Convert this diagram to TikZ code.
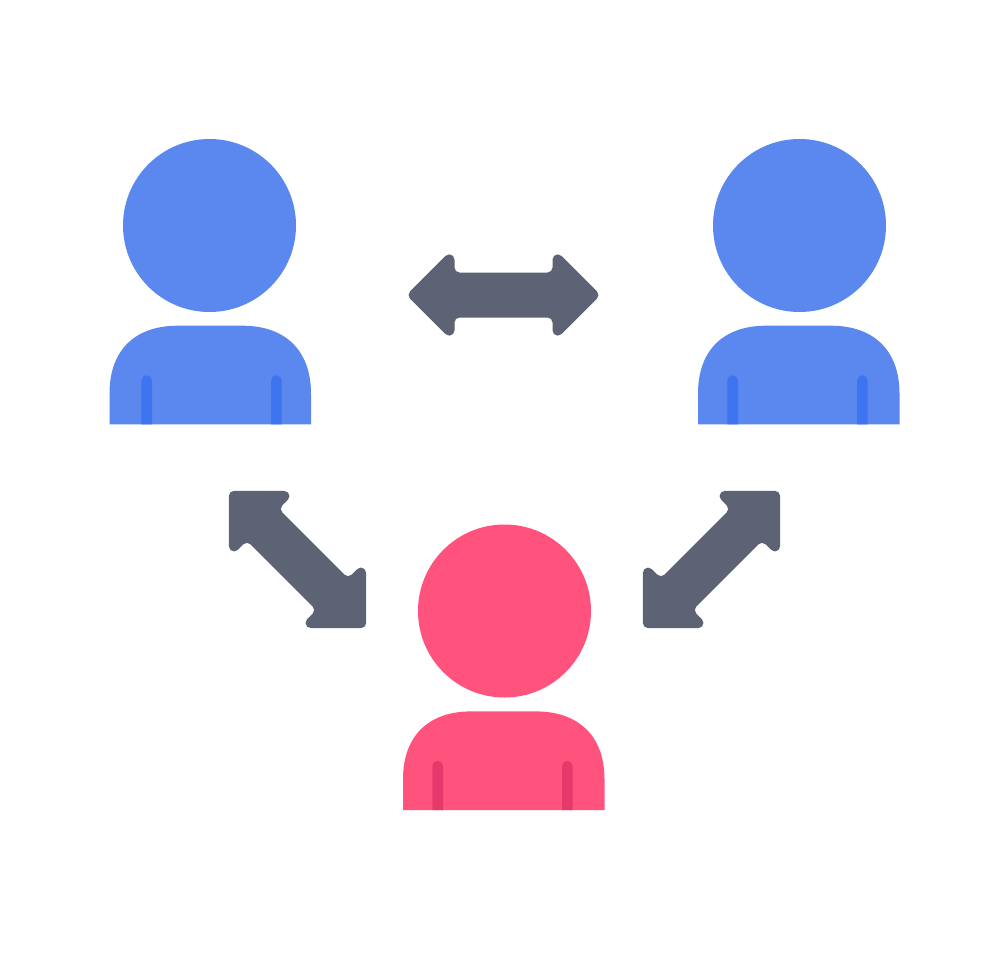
\documentclass[tikz,border=0pt]{standalone}
\definecolor{bluebody}{HTML}{5A88EE}
\definecolor{bluestrap}{HTML}{3E74EF}
\definecolor{pinkbody}{HTML}{FF527C}
\definecolor{pinkstrap}{HTML}{E5386B}
\definecolor{arrowgray}{HTML}{5E6275}
\newcommand{\personfig}[7]{% head x, head y, body left, body top, colour prefix, strap offsets
  \fill[#5body] (#1,-#2) circle[radius=86.5];
  \begin{scope}[shift={(#3,-#4)}]
    \fill[#5body] (0,-98.6) -- (0,-68) .. controls (0,-23) and (27,0) .. (68,0)
      -- (133,0) .. controls (174,0) and (201.5,-23) .. (201.5,-68) -- (201.5,-98.6) -- cycle;
    \fill[#5strap] (#6,-98.6) -- (#6,-54.85) arc[start angle=180,end angle=0,radius=5.35] -- ++(0,-43.75) -- cycle;
    \fill[#5strap] (#7,-98.6) -- (#7,-54.85) arc[start angle=180,end angle=0,radius=5.35] -- ++(0,-43.75) -- cycle;
  \end{scope}
}
\newcommand{\arrowfig}[3]{% centre x, centre y, options
  \fill[arrowgray,shift={(#1,-#2)},#3]
    (-93.47,3.54) -- (-57.88,39.13) arc[start angle=135,end angle=0,radius=5.2]
    -- (-49,27.5) arc[start angle=180,end angle=270,radius=5]
    -- (44,22.5) arc[start angle=270,end angle=360,radius=5]
    -- (49,35.45) arc[start angle=180,end angle=45,radius=5.2]
    -- (93.47,3.54) arc[start angle=45,end angle=-45,radius=5]
    -- (57.88,-39.13) arc[start angle=-45,end angle=-180,radius=5.2]
    -- (49,-27.5) arc[start angle=0,end angle=90,radius=5]
    -- (-44,-22.5) arc[start angle=90,end angle=180,radius=5]
    -- (-49,-35.45) arc[start angle=0,end angle=-135,radius=5.2]
    -- (-93.47,-3.54) arc[start angle=225,end angle=135,radius=5]
    -- cycle;
}
\begin{document}
\begin{tikzpicture}[x=1pt,y=1pt]
\useasboundingbox (0,0) rectangle (980,-980);
\fill[white] (0,0) rectangle (980,-980);
\personfig{209.5}{225.5}{109.5}{325.7}{blue}{31.8}{161.5}
\personfig{799.5}{225.5}{698}{325.7}{blue}{29.3}{159}
\personfig{504.5}{611}{403}{711.4}{pink}{29.3}{159}
\arrowfig{503.5}{295}{}
\arrowfig{297.5}{559.5}{rotate=-45}
\arrowfig{711.5}{559.5}{rotate=45}
\end{tikzpicture}
\end{document}
